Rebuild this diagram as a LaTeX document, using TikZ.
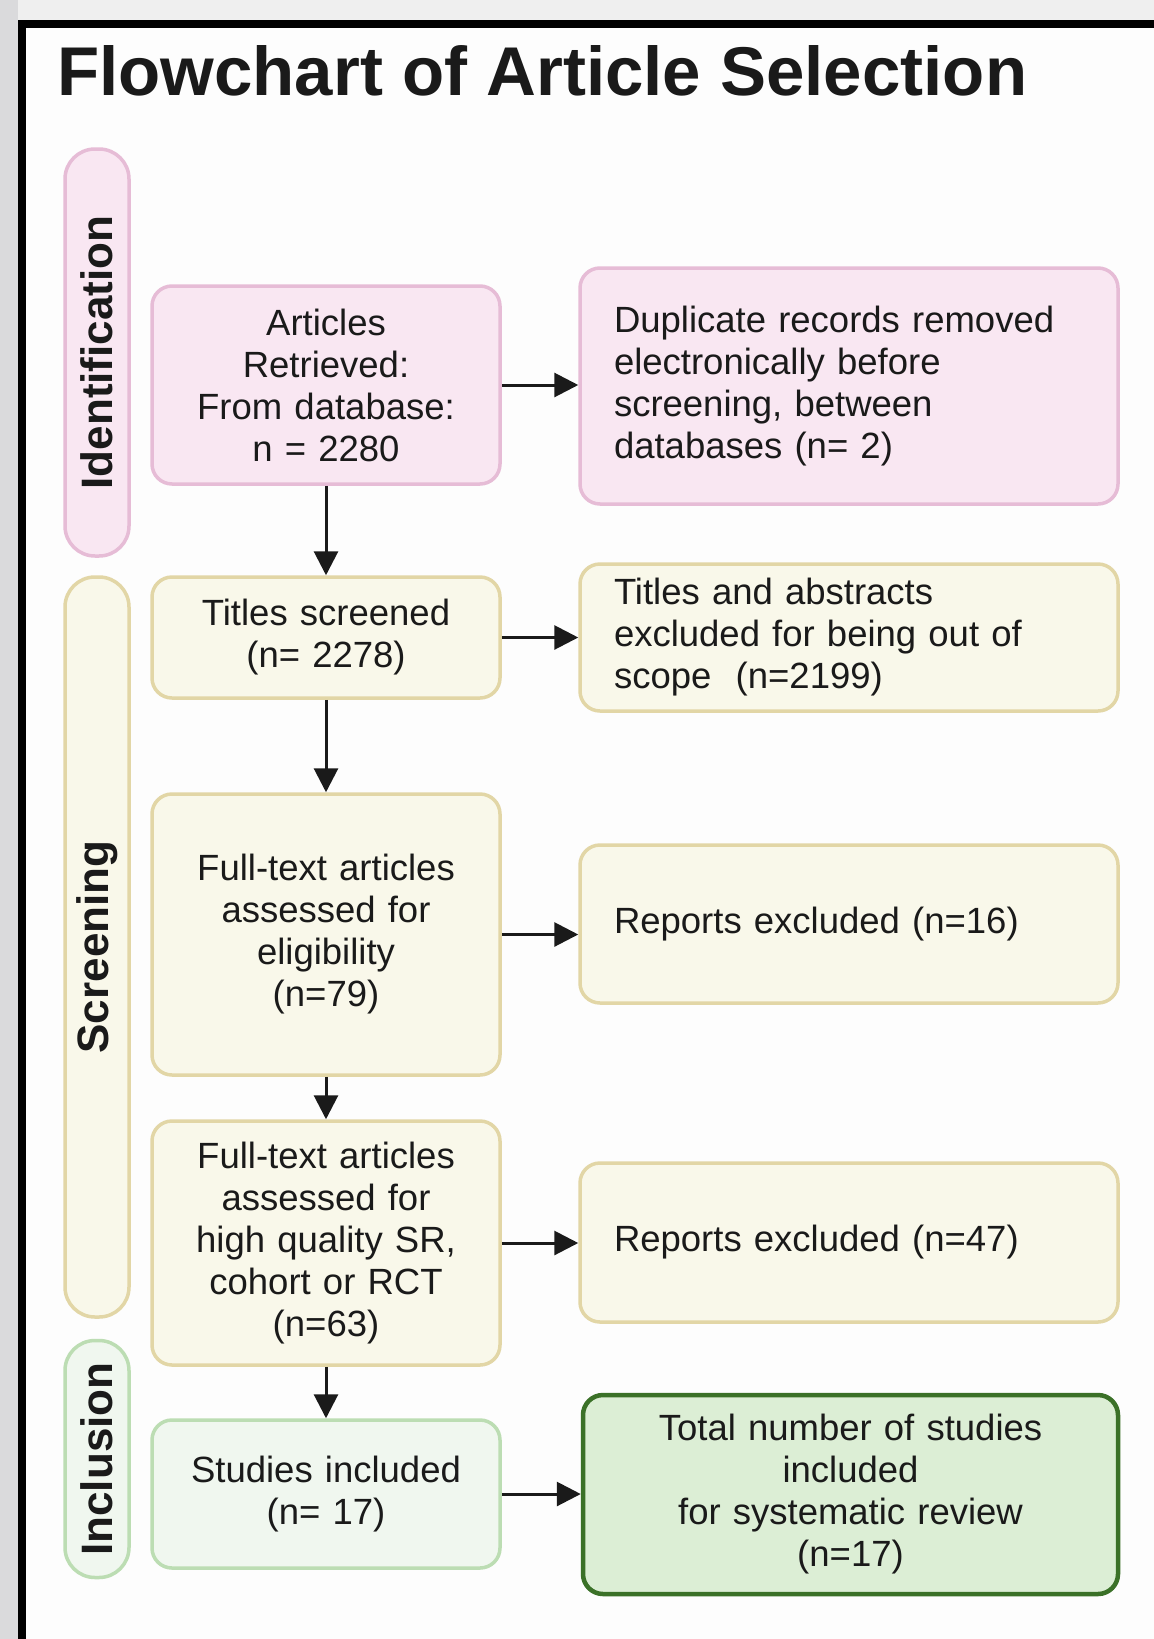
\documentclass[tikz,border=0pt]{standalone}
\usepackage{fontspec}
\setmainfont{Liberation Sans}
\usetikzlibrary{arrows.meta}

\definecolor{stripgray}{HTML}{DADADC}
\definecolor{topgray}{HTML}{EFEFEF}
\definecolor{paper}{HTML}{FDFDFD}
\definecolor{ink}{HTML}{1A1A1A}
\definecolor{pinkfill}{HTML}{F9E7F2}
\definecolor{pinkline}{HTML}{E6BCD6}
\definecolor{yelfill}{HTML}{F9F8EA}
\definecolor{yelline}{HTML}{E2D6A6}
\definecolor{grnfill}{HTML}{F0F7EF}
\definecolor{grnline}{HTML}{BCDDB3}
\definecolor{totfill}{HTML}{DCEED5}
\definecolor{totline}{HTML}{3B7128}

\tikzset{>={Triangle[length=24pt,width=24pt]}}
\tikzset{
    box/.style={rectangle, rounded corners=20pt, line width=3.5pt, text=ink,
        inner xsep=0pt, inner ysep=0pt, align=center,
        font=\fontsize{36.5}{42}\selectfont},
    leftbox/.style={box, text width=348pt},
    rightbox/.style={box, text width=470pt, inner xsep=34pt, align=left},
    stage/.style={rectangle, rounded corners=30pt, line width=3.5pt, rotate=90,
        minimum height=64pt, text=ink, font=\bfseries\fontsize{44}{44}\selectfont},
    pinkbox/.style={draw=pinkline, fill=pinkfill},
    yelbox/.style={draw=yelline, fill=yelfill},
    grnbox/.style={draw=grnline, fill=grnfill},
    flow/.style={->, line width=3pt, draw=ink}
}

\begin{document}
\begin{tikzpicture}[x=1pt, y=-1pt]
    \useasboundingbox (0,0) rectangle (1154,1639);

    % screenshot frame
    \fill[stripgray] (0,0) rectangle (18,1639);
    \fill[topgray] (18,0) rectangle (1154,20);
    \fill[paper] (18,20) rectangle (1154,1639);
    \fill[black] (18,20) rectangle (1154,28);
    \fill[black] (18,20) rectangle (26,1639);

    \node[anchor=base west, text=ink, inner sep=0pt, font=\bfseries\fontsize{69}{69}\selectfont]
        (title) at (57,95) {Flowchart of Article Selection};

    % stages
    \node[stage, pinkbox, minimum width=407pt] (ident) at (97,352.5) {Identification};
    \node[stage, yelbox, minimum width=740pt] (screen) at (97,947) {Screening};
    \node[stage, grnbox, minimum width=237pt] (inclu) at (97,1459) {Inclusion};

    % main column
    \node[leftbox, pinkbox, minimum height=198pt] (art) at (326,385)
        {Articles\\Retrieved:\\From database:\\n = 2280};
    \node[leftbox, yelbox, minimum height=121pt] (tit) at (326,637.5)
        {Titles screened\\(n= 2278)};
    \node[leftbox, yelbox, minimum height=281pt] (elig) at (326,934.5)
        {Full-text articles\\assessed for\\eligibility\\(n=79)};
    \node[leftbox, yelbox, minimum height=244pt] (qual) at (326,1243)
        {Full-text articles\\assessed for\\high quality SR,\\cohort or RCT\\(n=63)};
    \node[leftbox, grnbox, minimum height=148pt] (incl) at (326,1494)
        {Studies included\\(n= 17)};

    % side column
    \node[rightbox, pinkbox, minimum height=236pt] (dup) at (849,386)
        {Duplicate records removed\\electronically before\\screening, between\\databases (n= 2)};
    \node[rightbox, yelbox, minimum height=147pt] (excl) at (849,637.5)
        {Titles and abstracts\\excluded for being out of\\scope\ \ (n=2199)};
    \node[rightbox, yelbox, minimum height=158pt] (rep16) at (849,924)
        {Reports excluded (n=16)};
    \node[rightbox, yelbox, minimum height=159pt] (rep47) at (849,1242.5)
        {Reports excluded (n=47)};
    \node[box, draw=totline, fill=totfill, line width=4.5pt, text width=535pt,
        minimum height=199pt] (total) at (850.5,1494.5)
        {Total number of studies\\included\\for systematic review\\(n=17)};

    \foreach \a/\b in {art/tit, tit/elig, elig/qual, qual/incl}
        \draw[flow] (\a.south) -- (\b.north);
    \foreach \a/\b in {art/dup, tit/excl, elig/rep16, qual/rep47, incl/total}
        \draw[flow] (\a.east) -- (\a.east -| \b.west);

\end{tikzpicture}
\end{document}
